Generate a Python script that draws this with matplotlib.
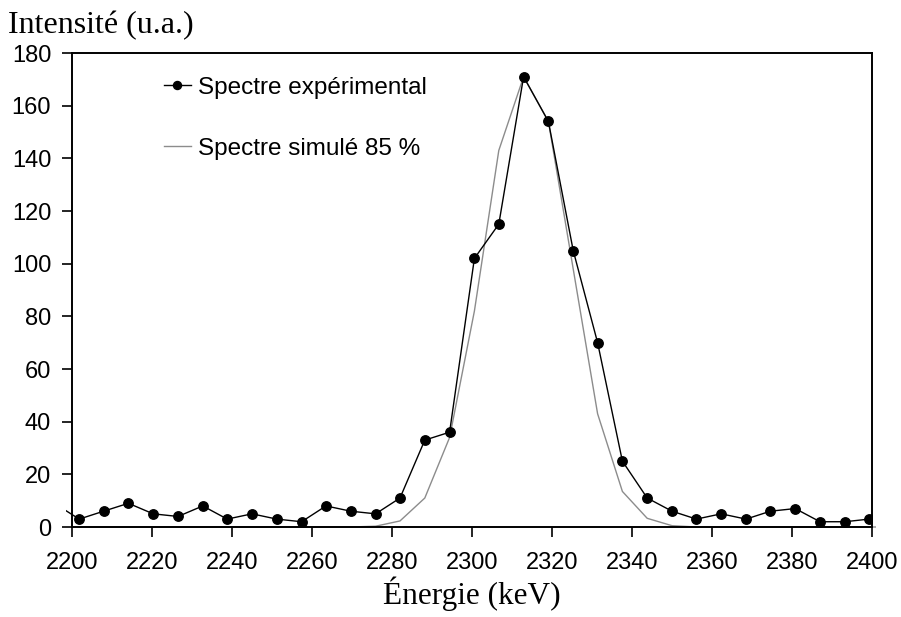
import matplotlib
matplotlib.use("Agg")
import matplotlib.pyplot as plt
from matplotlib.transforms import Bbox, TransformedBbox

energie_exp = [2195.6, 2201.8, 2207.9, 2214.1, 2220.3, 2226.5, 2232.7, 2238.8, 2245.0,
               2251.2, 2257.4, 2263.5, 2269.7, 2275.9, 2282.0, 2288.2, 2294.4, 2300.6,
               2306.7, 2312.9, 2319.1, 2325.3, 2331.4, 2337.6, 2343.8, 2350.0, 2356.1,
               2362.3, 2368.5, 2374.6, 2380.8, 2387.0, 2393.2, 2399.3]
experimental = [9, 3, 6, 9, 5, 4, 8, 3, 5, 3, 2, 8, 6, 5, 11, 33, 36, 102, 115,
                171, 154, 105, 70, 25, 11, 6, 3, 5, 3, 6, 7, 2, 2, 3]

energie_sim = [2201.8, 2207.9, 2214.1, 2220.3, 2226.5, 2232.7, 2238.8, 2245.0, 2251.2,
               2257.4, 2263.5, 2269.7, 2275.9, 2282.0, 2288.2, 2294.4, 2300.6, 2306.7,
               2312.9, 2319.1, 2325.3, 2331.4, 2337.6, 2343.8, 2350.0, 2356.1, 2362.3,
               2368.5, 2374.6, 2380.8, 2387.0, 2393.2, 2399.3, 2405.5]
simule = [0, 0, 0, 0, 0, 0, 0, 0, 0, 0, 0, 0, 0.3, 2.3, 11, 34, 82, 143,
          171, 154, 98, 43, 13.5, 3.3, 0.5, 0, 0, 0, 0, 0, 0, 0, 0, 0]

xticks = list(range(2200, 2401, 20))
yticks = list(range(0, 181, 20))

sans = "Liberation Sans"
serif = "Liberation Serif"

fig = plt.figure(figsize=(9.01, 6.17), dpi=100)
ax = fig.add_axes([72/901, 1-527/617, 800/901, 474/617])

l_sim, = ax.plot(energie_sim, simule, color="#8c8c8c", lw=1.0, zorder=2,
                 label="Spectre simulé 85 %")
l_exp, = ax.plot(energie_exp, experimental, color="black", lw=1.0, marker="o", ms=6.8,
                 markeredgecolor="black", markerfacecolor="black", zorder=3,
                 label="Spectre expérimental")
# slight overflow of the lines past the frame, as in the original
l_exp.set_clip_box(TransformedBbox(Bbox([[-0.007, 0], [1.0, 1.0]]), ax.transAxes))
l_sim.set_clip_box(TransformedBbox(Bbox([[0, -0.01], [1.005, 1.0]]), ax.transAxes))

ax.set_xlim(2200, 2400)
ax.set_ylim(0, 180)
ax.set_xticks(xticks)
ax.set_yticks(yticks)
ax.tick_params(axis="both", direction="out", length=7, width=1.2,
               labelsize=17, colors="black")
ax.tick_params(axis="x", pad=11)
ax.tick_params(axis="y", pad=8)
for lab in ax.get_xticklabels() + ax.get_yticklabels():
    lab.set_fontfamily(sans)
for s in ax.spines.values():
    s.set_linewidth(1.4)
    s.set_color("black")

handles, labels = ax.get_legend_handles_labels()
leg = ax.legend(handles[::-1], labels[::-1], loc="upper left",
                bbox_to_anchor=((142-72)/800, (527-55)/474), frameon=False,
                prop={"family": sans, "size": 17.5}, labelspacing=1.6,
                handlelength=1.12, handletextpad=0.3, markerscale=0.85)

fig.text(8/901, 1-33/617, "Intensité (u.a.)", family=serif, fontsize=23,
         ha="left", va="baseline")
ax.set_xlabel("Énergie (keV)", family=serif, fontsize=22.5, labelpad=2)

fig.savefig("out.png", dpi=100)
